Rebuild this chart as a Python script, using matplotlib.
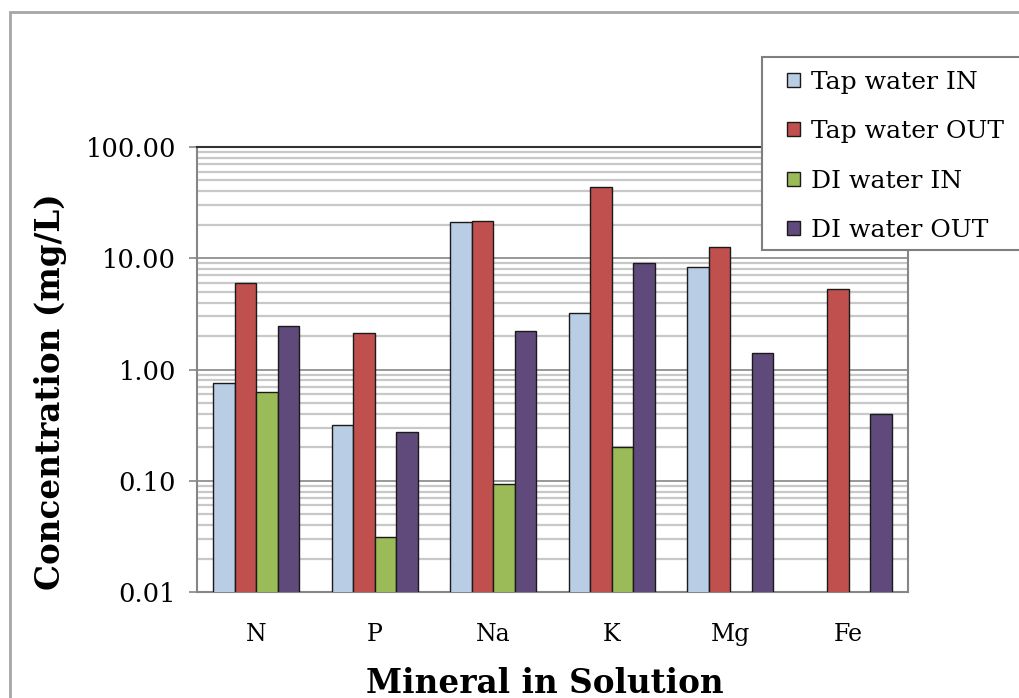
import numpy as np
import matplotlib
matplotlib.use("Agg")
import matplotlib.pyplot as plt
from matplotlib.patches import Rectangle
from matplotlib.ticker import FixedLocator, LogLocator, FormatStrFormatter, NullFormatter

# ==========================================
# 資料：各礦物元素濃度 (mg/L)，缺值以 nan 表示
# ==========================================
minerals = ["N", "P", "Na", "K", "Mg", "Fe"]
series_names = ["Tap water IN", "Tap water OUT", "DI water IN", "DI water OUT"]

tap_in = [0.76, 0.32, 21.2, 3.2, 8.3, np.nan]
tap_out = [6.0, 2.11, 21.8, 43.4, 12.7, 5.26]
di_in = [0.63, 0.031, 0.093, 0.20, np.nan, np.nan]
di_out = [2.48, 0.276, 2.2, 9.0, 1.40, 0.40]

y_ticks = [0.01, 0.1, 1, 10, 100]

colors = ["#B9CDE5", "#C0504D", "#9BBB59", "#604A7B"]

W, H = 1020, 698
fig = plt.figure(figsize=(W / 100, H / 100), dpi=100)
fig.patch.set_facecolor("white")

# 外框 (只露出左邊與上邊)
fig.add_artist(Rectangle((10 / W, -0.1), 1.2, 1 - 12 / H + 0.1,
                         transform=fig.transFigure, fill=False,
                         edgecolor="#a6a6a6", linewidth=2, zorder=0))

ax = fig.add_axes([197 / W, 1 - 592 / H, (908 - 197) / W, (592 - 147) / H])
ax.set_yscale("log")
ax.set_ylim(0.01, 100)

x = np.arange(len(minerals))
bar_w = 0.182
all_series = [tap_in, tap_out, di_in, di_out]
for i, vals in enumerate(all_series):
    offs = (i - 1.5) * bar_w
    ax.bar(x + offs, vals, width=bar_w, color=colors[i], edgecolor="#1a1a1a",
           linewidth=1.0, label=series_names[i], zorder=3)

ax.set_xlim(-0.5, len(minerals) - 0.5)
ax.set_xticks(x)
ax.set_xticklabels(minerals, fontfamily="DejaVu Serif", fontsize=17)
ax.tick_params(axis="x", length=0, pad=22)

ax.yaxis.set_major_locator(FixedLocator(y_ticks))
ax.yaxis.set_major_formatter(FormatStrFormatter("%.2f"))
ax.yaxis.set_minor_locator(LogLocator(base=10, subs=np.arange(2, 10)))
ax.yaxis.set_minor_formatter(NullFormatter())
ax.tick_params(axis="y", which="major", length=6, width=1.2, color="#868686", pad=9)
ax.tick_params(axis="y", which="minor", length=0)
for lab in ax.get_yticklabels():
    lab.set_fontfamily("DejaVu Serif")
    lab.set_fontsize(18.5)

# 格線：主刻度較深，次刻度較淺
ax.grid(True, which="major", axis="y", color="#868686", linewidth=1.2, zorder=0)
ax.grid(True, which="minor", axis="y", color="#c8c8c8", linewidth=1.6, zorder=0)
ax.set_axisbelow(True)

for side in ["left", "bottom", "right"]:
    ax.spines[side].set_color("#868686")
    ax.spines[side].set_linewidth(1.5)
ax.spines["top"].set_color("#333333")
ax.spines["top"].set_linewidth(1.5)

# 軸標題
fig.text(51 / W, 1 - 392 / H, "Concentration (mg/L)", rotation=90,
         ha="center", va="center", fontfamily="DejaVu Serif",
         fontweight="bold", fontsize=23.5)
fig.text(545 / W, 1 - 693 / H, "Mineral in Solution", ha="center",
         va="baseline", fontfamily="DejaVu Serif", fontweight="bold", fontsize=23.5)

# 圖例：白底框延伸出右側邊界
fig.add_artist(Rectangle((762 / W, 1 - 250 / H), 0.5, (250 - 57) / H,
                         transform=fig.transFigure, facecolor="white",
                         edgecolor="#7f7f7f", linewidth=1.5, zorder=4))
handles, labels = ax.get_legend_handles_labels()
leg = fig.legend(handles, labels, loc="upper left",
                 bbox_to_anchor=(765 / W, 1 - 48 / H), frameon=False,
                 prop={"family": "DejaVu Serif", "size": 18},
                 handlelength=0.5, handleheight=0.5, handletextpad=0.45,
                 labelspacing=1.06, borderpad=0.4)
leg.set_zorder(5)

fig.savefig("out.png", dpi=100, facecolor="white")
